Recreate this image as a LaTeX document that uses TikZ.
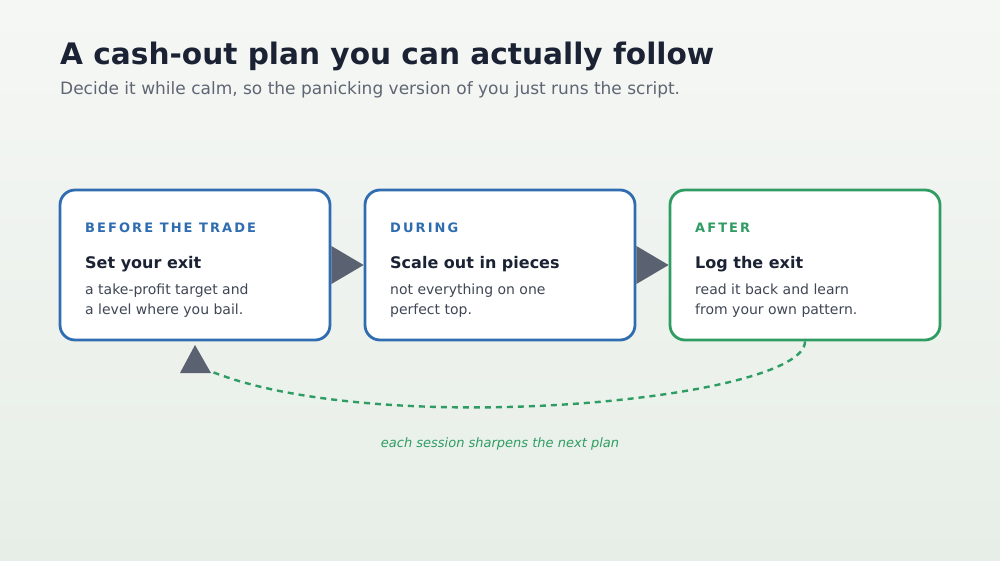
\documentclass[tikz,border=0pt]{standalone}
\usepackage{fontspec}
\setmainfont{DejaVu Sans}
\newfontfamily\capsfont[LetterSpace=16]{DejaVu Sans}
\usetikzlibrary{positioning, calc}

\definecolor{ink}{HTML}{1B2233}
\definecolor{muted}{HTML}{5F6673}
\definecolor{bodytxt}{HTML}{3F4654}
\definecolor{stageblue}{HTML}{2F6DB0}
\definecolor{stagegreen}{HTML}{2F9D63}
\definecolor{pointer}{HTML}{5A6170}
\definecolor{bgtop}{HTML}{F5F7F5}
\definecolor{bgbottom}{HTML}{E7EEE7}

\begin{document}
\begin{tikzpicture}[
    x=1pt, y=-1pt,
    stage/.style={rectangle, rounded corners=15pt, draw, line width=2.8pt, fill=white, minimum width=270pt, minimum height=150pt},
    tag/.style={anchor=base west, inner sep=0pt, font=\capsfont\bfseries\fontsize{13}{15}\selectfont},
    head/.style={anchor=base west, inner sep=0pt, text=ink, font=\bfseries\fontsize{16}{19}\selectfont},
    body/.style={anchor=base west, inner sep=0pt, text=bodytxt, align=left, font=\fontsize{14}{20}\selectfont},
    tri/.style={fill=pointer},
    loop/.style={draw=stagegreen, line width=2.4pt, dash pattern=on 6pt off 5pt}
]
% background
\shade[top color=bgtop, bottom color=bgbottom, draw=none] (0,0) rectangle (1000,560);
\useasboundingbox (0,0) rectangle (1000,560);

% title
\node[anchor=base west, inner sep=0pt, text=ink, font=\bfseries\fontsize{29.6}{36}\selectfont] (title) at (60,64) {A cash-out plan you can actually follow};
\node[anchor=base west, inner sep=0pt, text=muted, font=\fontsize{17}{21}\selectfont] (subtitle) at (60,94) {Decide it while calm, so the panicking version of you just runs the script.};

% stages
\node[stage, draw=stageblue] (before) at (195,265) {};
\node[stage, draw=stageblue] (during) at (500,265) {};
\node[stage, draw=stagegreen] (after) at (805,265) {};

\node[tag, text=stageblue] (beforetag) at (85,232) {BEFORE THE TRADE};
\node[head] (beforehead) at (85,268) {Set your exit};
\node[body] (beforebody) at (85,314) {a take-profit target and\\a level where you bail.};

\node[tag, text=stageblue] (duringtag) at (390,232) {DURING};
\node[head] (duringhead) at (390,268) {Scale out in pieces};
\node[body] (duringbody) at (390,314) {not everything on one\\perfect top.};

\node[tag, text=stagegreen] (aftertag) at (695,232) {AFTER};
\node[head] (afterhead) at (695,268) {Log the exit};
\node[body] (afterbody) at (695,314) {read it back and learn\\from your own pattern.};

% pointers between stages
\fill[tri] ($(before.east)+(0,-19)$) -- (during.west) -- ($(before.east)+(0,19)$) -- cycle;
\fill[tri] ($(during.east)+(0,-19)$) -- (after.west) -- ($(during.east)+(0,19)$) -- cycle;

% feedback loop
\coordinate (loopend) at (210,371);
\fill[tri] (180,373) -- (195,345) -- (211,373) -- cycle;
\draw[loop] (after.south) .. controls (805,400) and (380,440) .. (loopend);
\node[text=stagegreen, font=\itshape\fontsize{13}{15}\selectfont] (looplabel) at (500,444) {each session sharpens the next plan};
\end{tikzpicture}
\end{document}
